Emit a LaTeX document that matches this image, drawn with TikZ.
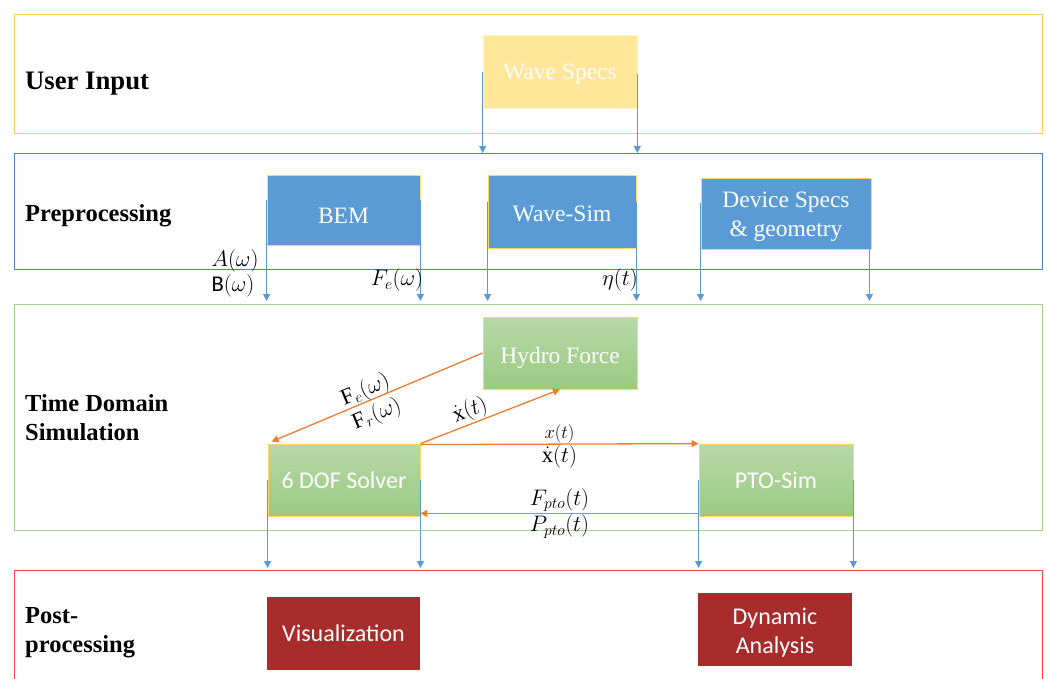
\RequirePackage{fix-cm}
\documentclass[tikz,border=0pt]{standalone}
\usepackage{fontspec}
\setmainfont{Liberation Serif}
\newfontfamily\calibri{Carlito}
\usetikzlibrary{arrows.meta,calc}

\definecolor{yfr}{HTML}{FFD04F}
\definecolor{bfr}{HTML}{4F7BC8}
\definecolor{gfr}{HTML}{A9D18E}
\definecolor{rfr}{HTML}{FF4040}
\definecolor{wsfill}{HTML}{FFE699}
\definecolor{wsbord}{HTML}{FFF2CC}
\definecolor{bfill}{HTML}{5B9BD5}
\definecolor{ybord}{HTML}{FFD966}
\definecolor{gtop}{HTML}{B7D8A8}
\definecolor{gbot}{HTML}{9BCA82}
\definecolor{rfill}{HTML}{A82C2B}
\definecolor{barc}{HTML}{5B9BD5}
\definecolor{oarc}{HTML}{ED7D31}

\begin{document}
\begin{tikzpicture}[x=1pt,y=-1pt,
  frame/.style={draw, line width=1.3pt, inner sep=0pt, anchor=north west, minimum width=1028pt},
  sect/.style={font=\fontsize{24.5}{28.5}\selectfont\bfseries, anchor=base west, inner sep=0pt, align=left},
  serifbox/.style={font=\fontsize{23.5}{29}\selectfont, text=white, inner sep=0pt, align=center},
  sansbox/.style={font=\calibri\fontsize{24}{29}\selectfont, text=white, inner sep=0pt, align=center},
  oneline/.style={text height=#1, text depth=0pt},
  oneline/.default=16pt,
  ybox/.style={serifbox, fill=wsfill, draw=wsbord, line width=0.6pt},
  bbox/.style={serifbox, fill=bfill, draw=ybord, line width=0.8pt},
  gbox/.style={top color=gtop, bottom color=gbot, draw=ybord, line width=0.8pt},
  rbox/.style={sansbox, fill=rfill},
  barrow/.style={draw=barc, line width=1.3pt, -{Triangle[length=7pt,width=7pt]}},
  oarrow/.style={draw=oarc, line width=1.3pt, -{Triangle[length=7pt,width=7pt]}},
  mlab/.style={font=\fontsize{22.5}{26}\selectfont, inner sep=1pt},
  slab/.style={font=\fontsize{18.5}{22}\selectfont, inner sep=0.5pt}
]
\clip (0,0) rectangle (1047,678);
\fill[white] (0,0) rectangle (1047,678);

% section frames
\node[frame, draw=yfr, minimum height=119pt] (ui) at (14,14) {};
\node[frame, draw=bfr, minimum height=116pt] (pre) at (14,153) {};
\node[frame, draw=gfr, minimum height=226pt] (tds) at (14,304) {};
\node[frame, draw=rfr, minimum height=140pt] (post) at (14,570) {};

% section titles
\node[sect, font=\fontsize{26.7}{30}\selectfont\bfseries] (lui) at (25,89.3) {User Input};
\node[sect] (lpre) at (25,221.7) {Preprocessing};
\node[sect] (ltds) at (25,440) {Time Domain\\Simulation};
\node[sect] (lpost) at (25,652) {Post-\\processing};

% boxes
\node[ybox, oneline=16.6pt, minimum width=154pt, minimum height=73pt] (ws) at (560,71.5) {Wave Specs};
\node[bbox, oneline=26pt, minimum width=153pt, minimum height=70pt] (bem) at (343.5,210) {BEM};
\node[bbox, oneline=19pt, minimum width=148pt, minimum height=73pt] (wsim) at (562,211.5) {Wave-Sim};
\node[bbox, minimum width=170pt, minimum height=71pt] (dev) at (786,213.5) {\rule{0pt}{23pt}Device Specs\\\& geometry};
\node[gbox, serifbox, oneline=21pt, minimum width=154pt, minimum height=72pt] (hf) at (560,353) {Hydro Force};
\node[gbox, sansbox, oneline=16.4pt, minimum width=152pt, minimum height=72pt] (dof) at (344,480) {6 DOF Solver};
\node[gbox, sansbox, oneline=16.4pt, minimum width=154pt, minimum height=72pt] (pto) at (776,480) {PTO-Sim};
\node[rbox, oneline=16.4pt, minimum width=153pt, minimum height=73pt] (vis) at (343.5,633.5) {Visualization};
\node[rbox, minimum width=154pt, minimum height=73pt] (dyn) at (775,629.5) {\rule{0pt}{22pt}Dynamic\\Analysis};

% blue arrows
\draw[barrow] (ws.west) -- (ws.west |- pre.north);
\draw[barrow] ([yshift=-2pt]ws.east) -- (ws.east |- pre.north);
\draw[barrow, shorten >=3pt] ([yshift=10pt]bem.west) -- (bem.west |- tds.north);
\draw[barrow, shorten >=3pt] ([yshift=10pt]bem.east) -- (bem.east |- tds.north);
\draw[barrow, shorten >=3pt] ([yshift=10pt]wsim.west) -- (wsim.west |- tds.north);
\draw[barrow, shorten >=3pt] ([yshift=10pt]wsim.east) -- (wsim.east |- tds.north);
\draw[barrow, shorten >=3pt] ([yshift=11pt]dev.west) -- (dev.west |- tds.north);
\draw[barrow, shorten >=3pt] ([xshift=-2pt]dev.south east) -- ([xshift=-2pt]dev.south east |- tds.north);
\draw[barrow, shorten >=2pt] (dof.west) -- (dof.west |- post.north);
\draw[barrow, shorten >=2pt] (dof.east) -- (dof.east |- post.north);
\draw[barrow, shorten >=2pt] (pto.west) -- (pto.west |- post.north);
\draw[barrow, shorten >=2pt] (pto.east) -- (pto.east |- post.north);

% preprocessing output labels
\node[mlab] (la) at (235,260.5) {$A(\omega)$};
\node[mlab] (lb) at (233,286) {{\calibri B}$(\omega)$};
\node[mlab] (lfe) at (397,280) {$F_e(\omega)$};
\node[mlab] (leta) at (620,280) {$\eta(t)$};

% orange arrows
\draw[oarrow] (hf.west) -- ([xshift=4pt,yshift=2pt]dof.north west)
  node[mlab, pos=0.535, sloped, above=-2pt] (lfe2) {$\mathrm{F}_e(\omega)$}
  node[mlab, pos=0.53, sloped, below=3pt] (lfr) {$\mathrm{F}_r(\omega)$};
\draw[oarrow] (dof.north east) -- (hf.south)
  node[mlab, pos=0.39, sloped, above=0pt] (lxd1) {$\dot{\mathrm{x}}(t)$};
\draw[oarrow] ([yshift=-1pt]dof.north east) -- (pto.north west)
  node[slab, midway, above] (lx) {$x(t)$}
  node[mlab, midway, below] (lxd2) {$\dot{\mathrm{x}}(t)$};
\draw[oarrow] ([yshift=3pt]pto.south west) -- ([yshift=3pt]dof.south east)
  node[mlab, midway, above] (lfp) {$F_{pto}(t)$}
  node[mlab, midway, below] (lpp) {$P_{pto}(t)$};
\end{tikzpicture}
\end{document}
